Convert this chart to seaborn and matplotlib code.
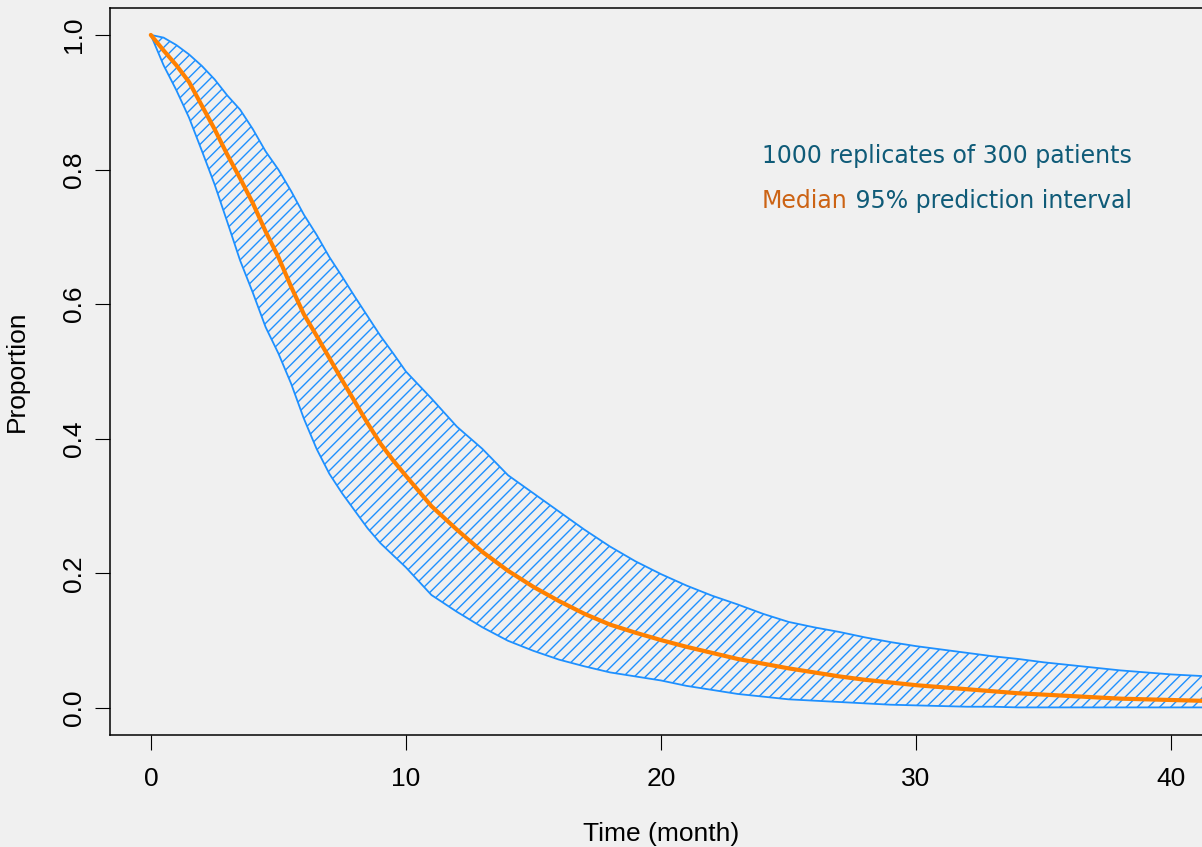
"""Survival curve of simulated patients:
median and 95% prediction interval (hatched band) over time.
"""
import numpy as np
import pandas as pd
import seaborn as sns
import matplotlib.pyplot as plt

# time grid (months) and curves
time = [0, 0.5, 1, 1.5, 2, 2.5, 3, 3.5, 4, 4.5, 5, 5.5, 6, 6.5, 7, 7.5, 8, 8.5, 9, 9.5,
        10, 11, 12, 13, 14, 15, 16, 17, 18, 19, 20, 21, 22, 23, 24, 25, 26, 27, 28, 29,
        30, 31, 32, 33, 34, 35, 36, 37, 38, 39, 40, 41, 42]
median = [1.0, 0.977, 0.955, 0.93, 0.895, 0.86, 0.822, 0.787, 0.75, 0.708, 0.67, 0.626,
          0.585, 0.553, 0.52, 0.487, 0.455, 0.423, 0.393, 0.368, 0.345, 0.30, 0.265,
          0.232, 0.204, 0.18, 0.159, 0.14, 0.124, 0.112, 0.101, 0.091, 0.082, 0.073,
          0.066, 0.059, 0.053, 0.047, 0.042, 0.038, 0.034, 0.031, 0.028, 0.025, 0.022,
          0.02, 0.018, 0.016, 0.014, 0.013, 0.012, 0.011, 0.01]
upper = [1.0, 0.996, 0.985, 0.971, 0.954, 0.934, 0.91, 0.889, 0.86, 0.827, 0.80, 0.768,
         0.733, 0.703, 0.67, 0.641, 0.611, 0.582, 0.553, 0.527, 0.50, 0.46, 0.418, 0.385,
         0.346, 0.319, 0.292, 0.265, 0.24, 0.218, 0.199, 0.182, 0.167, 0.154, 0.14, 0.128,
         0.12, 0.113, 0.105, 0.098, 0.092, 0.087, 0.082, 0.077, 0.073, 0.068, 0.064, 0.06,
         0.056, 0.053, 0.05, 0.048, 0.046]
lower = [1.0, 0.955, 0.918, 0.877, 0.828, 0.778, 0.722, 0.665, 0.617, 0.566, 0.527, 0.482,
         0.43, 0.385, 0.348, 0.319, 0.293, 0.267, 0.245, 0.227, 0.209, 0.168, 0.143, 0.12,
         0.10, 0.085, 0.072, 0.062, 0.053, 0.047, 0.041, 0.033, 0.027, 0.021, 0.017, 0.013,
         0.011, 0.009, 0.007, 0.005, 0.004, 0.003, 0.002, 0.002, 0.001, 0.001, 0.001, 0.001,
         0.001, 0.001, 0.001, 0.001, 0.001]

df = pd.DataFrame({"time": time, "median": median, "lower": lower, "upper": upper})

BG = "#f0f0f0"
BAND = "#1e90ff"
MEDIAN = "#ff8000"
TEAL = "#0f5b78"
BROWN = "#cc6314"

sns.set_theme(style="ticks", rc={"axes.facecolor": BG, "figure.facecolor": BG,
                                 "text.color": "black", "axes.labelcolor": "black",
                                 "xtick.color": "black", "ytick.color": "black"})
plt.rcParams["font.family"] = ["Liberation Sans", "DejaVu Sans"]
plt.rcParams["hatch.linewidth"] = 1.0
plt.rcParams["hatch.color"] = BAND

fig = plt.figure(figsize=(12.02, 8.47), dpi=100)
W, H = 1202, 847
ax = fig.add_axes([110 / W, 1 - 735 / H, (1212 - 110) / W, (735 - 8) / H])

ax.fill_between(df["time"], df["lower"], df["upper"],
    facecolor="none", edgecolor=BAND, hatch="///", linewidth=1.3)
sns.lineplot(data=df, x="time", y="median", color=MEDIAN, linewidth=3, ax=ax)

ax.set_xlim(-1.6, 41.6)
ax.set_ylim(-0.04, 1.04)
ax.set_xticks([0, 10, 20, 30, 40])
ax.set_yticks([0, 0.2, 0.4, 0.6, 0.8, 1.0])
ax.set_yticklabels(["0.0", "0.2", "0.4", "0.6", "0.8", "1.0"], va="center")
ax.tick_params(axis="both", labelsize=19, length=11, width=0.8,
    color="black", labelcolor="black")
ax.tick_params(axis="x", pad=12)
ax.tick_params(axis="y", labelrotation=90, pad=6)
for s in ["left", "bottom", "top", "right"]:
    ax.spines[s].set_linewidth(1.1)
    ax.spines[s].set_color("black")

ax.set_xlabel("Time (month)", fontsize=19, labelpad=22, color="black")
ax.set_ylabel("Proportion", fontsize=19, labelpad=24, color="black")

# legend-like annotation
tfont = dict(fontsize=17, family=["DejaVu Sans"])
ax.text(23.96, 0.81, "1000 replicates of 300 patients", color=TEAL, va="baseline", **tfont)
t1 = ax.text(23.96, 0.743, "Median", color=BROWN, va="baseline", **tfont)
ax.annotate(" 95% prediction interval", xy=(1, 0), xycoords=t1, va="bottom",
    color=TEAL, **tfont)

plt.savefig("out.png", dpi=100, facecolor=BG)
plt.close()
